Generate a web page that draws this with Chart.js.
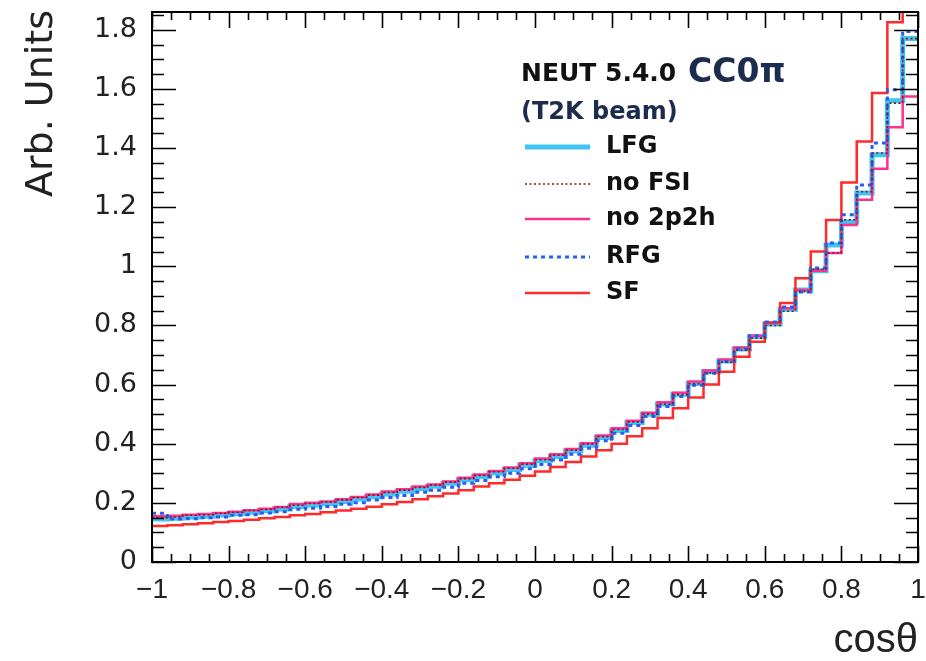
<!DOCTYPE html>
<html>
<head>
<meta charset="utf-8">
<script src="https://cdn.jsdelivr.net/npm/chart.js@4/dist/chart.umd.min.js"></script>
<style>
  html, body { margin: 0; padding: 0; background: #fff; }
  #wrap { width: 926px; height: 661px; }
</style>
</head>
<body>
<div id="wrap"><canvas id="c" width="926" height="661"></canvas></div>
<script>
// --- datos: 50 bins de cos(theta) entre -1 y 1 ---
const xMin = -1, xMax = 1, nBins = 50;

const lfg = [0.145, 0.148, 0.152, 0.155, 0.159, 0.163, 0.168, 0.173, 0.179, 0.188,
  0.193, 0.198, 0.205, 0.213, 0.221, 0.230, 0.239, 0.248, 0.256, 0.266,
  0.278, 0.289, 0.301, 0.313, 0.327, 0.343, 0.357, 0.375, 0.395, 0.421,
  0.445, 0.472, 0.500, 0.534, 0.567, 0.604, 0.643, 0.680, 0.720, 0.762,
  0.805, 0.855, 0.920, 0.985, 1.072, 1.150, 1.248, 1.377, 1.560, 1.770];

const noFsi = [0.150, 0.152, 0.158, 0.160, 0.165, 0.168, 0.174, 0.178, 0.185, 0.192,
  0.198, 0.203, 0.210, 0.218, 0.226, 0.235, 0.243, 0.252, 0.260, 0.270,
  0.282, 0.293, 0.305, 0.317, 0.331, 0.346, 0.361, 0.378, 0.399, 0.424,
  0.448, 0.474, 0.500, 0.534, 0.566, 0.603, 0.640, 0.676, 0.716, 0.757,
  0.800, 0.848, 0.915, 0.990, 1.045, 1.157, 1.252, 1.383, 1.552, 1.770];

const no2p2h = [0.155, 0.156, 0.160, 0.162, 0.166, 0.170, 0.175, 0.180, 0.186, 0.196,
  0.200, 0.205, 0.212, 0.220, 0.228, 0.238, 0.246, 0.255, 0.262, 0.272,
  0.285, 0.296, 0.308, 0.320, 0.334, 0.350, 0.364, 0.382, 0.402, 0.428,
  0.452, 0.478, 0.505, 0.540, 0.572, 0.610, 0.648, 0.685, 0.725, 0.765,
  0.808, 0.858, 0.920, 0.985, 1.045, 1.140, 1.225, 1.330, 1.470, 1.574];

const rfg = [0.165, 0.145, 0.146, 0.150, 0.152, 0.158, 0.160, 0.166, 0.170, 0.178,
  0.182, 0.188, 0.195, 0.200, 0.210, 0.218, 0.225, 0.236, 0.243, 0.253,
  0.266, 0.276, 0.288, 0.300, 0.315, 0.330, 0.345, 0.364, 0.385, 0.410,
  0.435, 0.462, 0.492, 0.526, 0.560, 0.598, 0.638, 0.678, 0.720, 0.765,
  0.812, 0.862, 0.913, 0.994, 1.079, 1.174, 1.275, 1.417, 1.597, 1.794];

const sf = [0.122, 0.124, 0.128, 0.131, 0.135, 0.139, 0.143, 0.148, 0.152, 0.158,
  0.162, 0.168, 0.174, 0.180, 0.187, 0.195, 0.203, 0.212, 0.222, 0.232,
  0.243, 0.255, 0.266, 0.278, 0.292, 0.306, 0.321, 0.338, 0.357, 0.378,
  0.400, 0.425, 0.452, 0.487, 0.520, 0.556, 0.600, 0.643, 0.694, 0.745,
  0.810, 0.876, 0.960, 1.050, 1.157, 1.283, 1.422, 1.586, 1.825, 1.950];

const xTickValues = [-1, -0.8, -0.6, -0.4, -0.2, 0, 0.2, 0.4, 0.6, 0.8, 1];
const xTickLabels = ['\u22121', '\u22120.8', '\u22120.6', '\u22120.4', '\u22120.2', '0', '0.2', '0.4', '0.6', '0.8', '1'];
const yTickValues = [0, 0.2, 0.4, 0.6, 0.8, 1, 1.2, 1.4, 1.6, 1.8];
const yTickLabels = ['0', '0.2', '0.4', '0.6', '0.8', '1', '1.2', '1.4', '1.6', '1.8'];
const yMax = 1.86;

// convierte un array de contenidos en puntos de histograma (borde izquierdo + borde final)
function histPoints(values) {
    const w = (xMax - xMin) / nBins;
    const pts = values.map((v, i) => ({ x: xMin + i * w, y: v }));
    pts.push({ x: xMax, y: values[values.length - 1] });
    return pts;
}

const series = [
    { label: 'LFG', data: lfg, color: '#3ec5f3', width: 5, dash: [], order: 5 },
    { label: 'no FSI', data: noFsi, color: '#7a1c1c', width: 1.6, dash: [2, 2.5], order: 1 },
    { label: 'no 2p2h', data: no2p2h, color: '#ff2f8c', width: 2.5, dash: [], order: 4 },
    { label: 'RFG', data: rfg, color: '#2a5cf0', width: 3, dash: [4, 4], order: 2 },
    { label: 'SF', data: sf, color: '#ff2a2a', width: 2.5, dash: [], order: 3 }
];

// --- plugin: marco, ticks estilo ROOT, leyenda y textos ---
const rootStyle = {
    id: 'rootStyle',
    afterDatasetsDraw(chart) {
        const ctx = chart.ctx;
        const a = chart.chartArea;
        const xs = chart.scales.x, ys = chart.scales.y;
        ctx.save();
        ctx.strokeStyle = '#000';
        ctx.lineWidth = 2;
        ctx.setLineDash([]);
        ctx.strokeRect(a.left, a.top, a.right - a.left, a.bottom - a.top);

        ctx.lineWidth = 1.6;
        ctx.beginPath();
        for (let k = 0; k <= 40; k++) {
            const px = Math.round(xs.getPixelForValue(-1 + 0.05 * k)) + 0.5;
            const len = k % 4 === 0 ? 16 : 8;
            ctx.moveTo(px, a.bottom); ctx.lineTo(px, a.bottom - len);
            ctx.moveTo(px, a.top); ctx.lineTo(px, a.top + len);
        }
        for (let k = 0; 0.05 * k <= yMax; k++) {
            const py = Math.round(ys.getPixelForValue(0.05 * k)) + 0.5;
            const len = k % 4 === 0 ? 24 : 12;
            ctx.moveTo(a.left, py); ctx.lineTo(a.left + len, py);
            ctx.moveTo(a.right, py); ctx.lineTo(a.right - len, py);
        }
        ctx.stroke();

        // titulos de ejes
        ctx.fillStyle = '#222';
        ctx.font = '40px "Liberation Sans", Arial, sans-serif';
        ctx.textAlign = 'right';
        ctx.textBaseline = 'alphabetic';
        ctx.fillText('cos\u03b8', 918, 652);

        ctx.save();
        ctx.translate(52, 10);
        ctx.rotate(-Math.PI / 2);
        ctx.font = '38px "DejaVu Sans", sans-serif';
        ctx.textAlign = 'right';
        ctx.fillText('Arb. Units', 0, 0);
        ctx.restore();

        // cabecera de la leyenda
        ctx.textAlign = 'left';
        ctx.fillStyle = '#111';
        ctx.font = 'bold 25px "DejaVu Sans", sans-serif';
        ctx.fillText('NEUT 5.4.0', 521, 81);
        ctx.fillStyle = '#1c2c4e';
        ctx.font = 'bold 33px "DejaVu Sans", sans-serif';
        ctx.fillText('CC0\u03c0', 688, 82);
        ctx.font = 'bold 24px "DejaVu Sans", sans-serif';
        ctx.fillText('(T2K beam)', 521, 119);

        // entradas
        const rowsY = [147, 184, 219, 257, 293];
        const legendOrder = ['LFG', 'no FSI', 'no 2p2h', 'RFG', 'SF'];
        legendOrder.forEach((name, i) => {
            const s = series.find(d => d.label === name);
            const y = rowsY[i];
            ctx.strokeStyle = s.color;
            ctx.lineWidth = s.width;
            ctx.setLineDash(s.dash);
            ctx.beginPath();
            ctx.moveTo(525, y); ctx.lineTo(590, y);
            ctx.stroke();
            ctx.setLineDash([]);
            ctx.fillStyle = '#111';
            ctx.font = 'bold 24px "DejaVu Sans", sans-serif';
            ctx.textBaseline = 'middle';
            ctx.fillText(name, 606, y);
        });
        ctx.restore();
    }
};

new Chart(document.getElementById('c'), {
    type: 'line',
    data: {
        datasets: series.map(s => ({
            label: s.label,
            data: histPoints(s.data),
            borderColor: s.color,
            borderWidth: s.width,
            borderDash: s.dash,
            order: s.order,
            stepped: 'before',
            pointRadius: 0,
            fill: false,
            tension: 0
        }))
    },
    options: {
        responsive: false,
        animation: false,
        events: [],
        layout: { padding: { top: 12, right: 8, left: 0, bottom: 0 } },
        plugins: { legend: { display: false }, tooltip: { enabled: false } },
        scales: {
            x: {
                type: 'linear', min: xMin, max: xMax,
                grid: { display: false, drawTicks: false },
                border: { display: false },
                afterFit(scale) {
                    scale.height = 99;
                    scale.paddingLeft = 0; scale.paddingRight = 0;
                },
                afterBuildTicks(scale) { scale.ticks = xTickValues.map(v => ({ value: v })); },
                ticks: {
                    autoSkip: false, maxRotation: 0, padding: 11,
                    color: '#222',
                    font: { family: '"Liberation Sans Narrow", "Liberation Sans", Arial, sans-serif', size: 28 },
                    callback: (v, i) => xTickLabels[i]
                }
            },
            y: {
                type: 'linear', min: 0, max: yMax,
                grid: { display: false, drawTicks: false },
                border: { display: false },
                afterFit(scale) {
                    scale.width = 152;
                    scale.paddingTop = 0; scale.paddingBottom = 0;
                },
                afterBuildTicks(scale) { scale.ticks = yTickValues.map(v => ({ value: v })); },
                ticks: {
                    autoSkip: false, padding: 15,
                    color: '#222',
                    font: { family: '"DejaVu Sans", sans-serif', size: 27 },
                    callback: (v, i) => yTickLabels[i]
                }
            }
        }
    },
    plugins: [rootStyle]
});
</script>
</body>
</html>
